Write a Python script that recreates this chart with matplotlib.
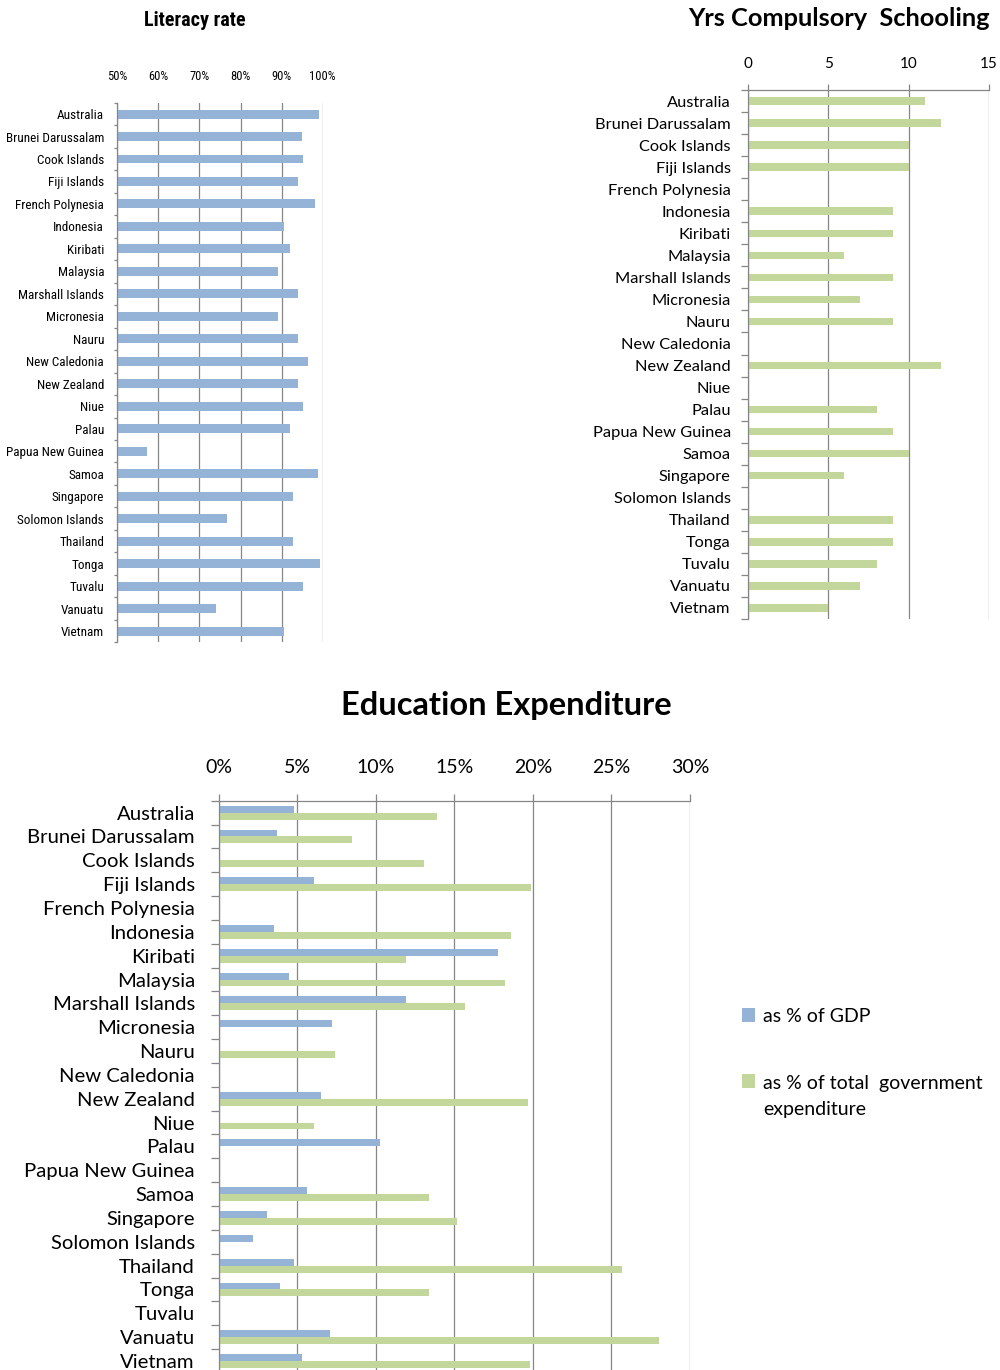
import numpy as np
import matplotlib
matplotlib.use("Agg")
import matplotlib.pyplot as plt
from matplotlib import font_manager
from matplotlib.patches import Patch, Rectangle
from matplotlib.legend_handler import HandlerPatch

# ---------------------------------------------------------------- data
countries = [
    "Australia", "Brunei Darussalam", "Cook Islands", "Fiji Islands",
    "French Polynesia", "Indonesia", "Kiribati", "Malaysia",
    "Marshall Islands", "Micronesia", "Nauru", "New Caledonia",
    "New Zealand", "Niue", "Palau", "Papua New Guinea", "Samoa",
    "Singapore", "Solomon Islands", "Thailand", "Tonga", "Tuvalu",
    "Vanuatu", "Vietnam",
]

# adult literacy rate, %
literacy = [99.2, 94.9, 95.3, 93.9, 98.2, 90.5, 92.1, 89.0, 93.9, 89.1,
            93.9, 96.4, 93.9, 95.3, 92.1, 57.2, 98.9, 92.8, 76.7, 92.8,
            99.4, 95.3, 74.0, 90.5]

# years of compulsory schooling (None = not reported)
compulsory_years = [11, 12, 10, 10, None, 9, 9, 6, 9, 7, 9, None, 12, None,
                    8, 9, 10, 6, None, 9, 9, 8, 7, 5]

# public expenditure on education
edu_pct_gdp = [4.8, 3.7, 0.1, 6.1, None, 3.5, 17.8, 4.5, 11.9, 7.2, None,
               None, 6.5, None, 10.3, None, 5.6, 3.1, 2.2, 4.8, 3.9, None,
               7.1, 5.3]
edu_pct_gov = [13.9, 8.5, 13.1, 19.9, None, 18.6, 11.9, 18.2, 15.7, None,
               7.4, None, 19.7, 6.1, None, None, 13.4, 15.2, None, 25.7,
               13.4, None, 28.0, 19.8]

literacy_ticks = [50, 60, 70, 80, 90, 100]
schooling_ticks = [0, 5, 10, 15]
expenditure_ticks = [0, 5, 10, 15, 20, 25, 30]

series_labels = ["as % of GDP", "as % of total  government\nexpenditure"]

# ---------------------------------------------------------------- style
BLUE = "#95B3D7"
GREEN = "#C3D69B"
GRID = "#868686"


def first_font(candidates):
    names = {f.name for f in font_manager.fontManager.ttflist}
    for c in candidates:
        if c in names:
            return c
    return "DejaVu Sans"


NARROW = first_font(["Liberation Sans Narrow", "Roboto Condensed",
                     "Open Sans Condensed", "DejaVu Sans Condensed",
                     "Noto Sans Condensed", "Liberation Sans"])
BODY = first_font(["Lato", "Open Sans", "Noto Sans"])

plt.rcParams["font.family"] = [BODY, "DejaVu Sans"]

fig = plt.figure(figsize=(10, 13.7), dpi=100)
W, H = 1000.0, 1370.0


def place(x0, x1, y0, y1):
    return fig.add_axes([x0 / W, 1 - y1 / H, (x1 - x0) / W, (y1 - y0) / H])


def vals(seq):
    idx = [i for i, v in enumerate(seq) if v is not None]
    return np.array(idx, dtype=float), np.array([seq[i] for i in idx], float)


def category_axis(ax, labels, size, family, tick_len, pad, show_top):
    n = len(labels)
    ax.set_ylim(n - 0.5, -0.5)
    ax.set_yticks(np.arange(n + 1) - 0.5)
    ax.set_yticklabels([])
    ax.set_yticks(np.arange(n), minor=True)
    ax.set_yticklabels(labels, minor=True, fontsize=size, family=family)
    ax.tick_params(axis="y", which="major", length=tick_len, width=0.9,
                   color=GRID, direction="out")
    ax.tick_params(axis="y", which="minor", length=0, pad=pad)
    for s in ("right", "bottom"):
        ax.spines[s].set_visible(False)
    ax.spines["left"].set_color(GRID)
    ax.spines["left"].set_linewidth(0.9)
    ax.spines["top"].set_visible(show_top)
    ax.spines["top"].set_color(GRID)
    ax.spines["top"].set_linewidth(0.9)
    ax.xaxis.tick_top()
    ax.grid(axis="x", color=GRID, linewidth=0.9)
    ax.set_axisbelow(True)


# ---------------------------------------------------------------- literacy
ax1 = place(117.3, 322.7, 102.8, 642.3)
y, v = vals(literacy)
ax1.barh(y, v - 50, left=50, height=0.4, color=BLUE)
ax1.set_xlim(50, 100)
ax1.set_xticks(literacy_ticks)
ax1.set_xticklabels([f"{t}%" for t in literacy_ticks], fontsize=9,
                    family=[NARROW, "DejaVu Sans"])
ax1.tick_params(axis="x", length=0, pad=14)
category_axis(ax1, countries, 9.5, [NARROW, "DejaVu Sans"], 2.5, 9.5, False)
fig.text(195 / W, 1 - 20 / H, "Literacy rate", ha="center", va="center",
         fontsize=14.5, fontweight="bold", family=[NARROW, "DejaVu Sans"])

# ---------------------------------------------------------------- schooling
ax2 = place(748.3, 988.7, 90.0, 619.0)
y, v = vals(compulsory_years)
ax2.barh(y, v, height=0.34, color=GREEN)
ax2.set_xlim(0, 15)
ax2.set_xticks(schooling_ticks)
ax2.set_xticklabels([str(t) for t in schooling_ticks], fontsize=11)
ax2.tick_params(axis="x", length=4, width=0.9, color=GRID, pad=10)
category_axis(ax2, countries, 11.8, [BODY, "DejaVu Sans"], 5, 12.6, True)
fig.text(839 / W, 1 - 19 / H, "Yrs Compulsory  Schooling", ha="center",
         va="center", fontsize=18.3, fontweight="bold")

# ---------------------------------------------------------------- expenditure
ax3 = place(218.5, 690.0, 800.7, 1372.9)
h = 0.29
y, v = vals(edu_pct_gdp)
ax3.barh(y - h / 2, v, height=h, color=BLUE)
y, v = vals(edu_pct_gov)
ax3.barh(y + h / 2, v, height=h, color=GREEN)
ax3.set_xlim(0, 30)
ax3.set_xticks(expenditure_ticks)
ax3.set_xticklabels([f"{t}%" for t in expenditure_ticks], fontsize=14)
ax3.tick_params(axis="x", length=5, width=0.9, color=GRID, pad=13)
category_axis(ax3, countries, 14.6, [BODY, "DejaVu Sans"], 6, 17, True)
fig.text(506 / W, 1 - 705 / H, "Education Expenditure", ha="center",
         va="center", fontsize=23.5, fontweight="bold")

LEG_SIZE = 14
LEG_LINESPACING = 1.65


def raised_patch(shift):
    # keep the swatch level with the first line of a two-line label
    def make(legend, orig_handle, xdescent, ydescent, width, height, fontsize):
        return Rectangle((-xdescent, -ydescent + shift), width, height)
    return HandlerPatch(patch_func=make)


handles = [Patch(facecolor=BLUE, edgecolor="none"),
           Patch(facecolor=GREEN, edgecolor="none")]
leg = fig.legend(handles, series_labels, loc="upper left",
                 bbox_to_anchor=(734 / W, 1 - 1000 / H), frameon=False,
                 fontsize=LEG_SIZE, handlelength=0.7, handleheight=0.7,
                 handletextpad=0.4, labelspacing=2.6, borderaxespad=0,
                 handler_map={handles[1]: raised_patch(
                     0.5 * LEG_LINESPACING * LEG_SIZE)})
for t in leg.get_texts():
    t.set_linespacing(LEG_LINESPACING)

fig.savefig("out.png", dpi=100)
